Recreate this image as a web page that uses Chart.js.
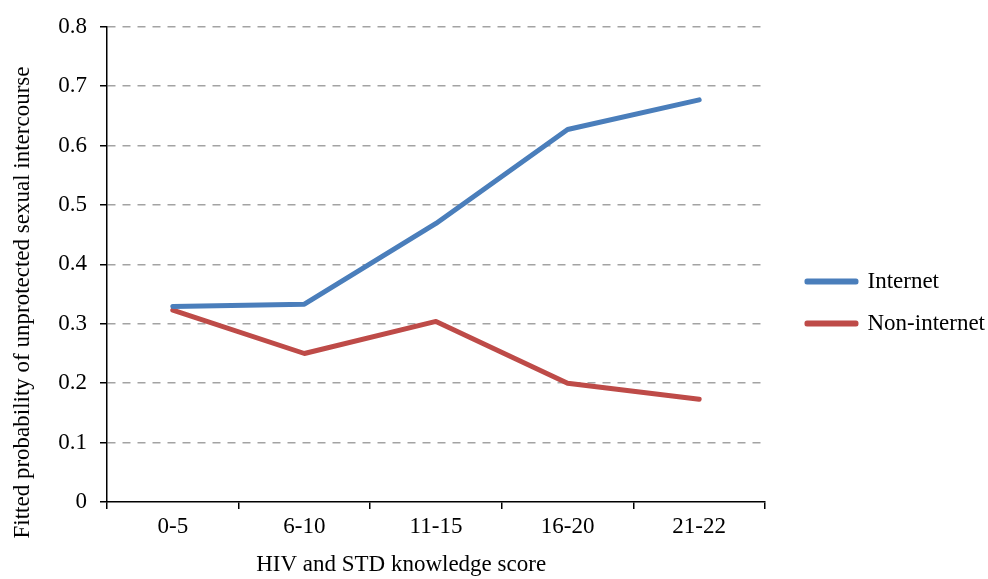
<!DOCTYPE html>
<html>
<head>
<meta charset="utf-8">
<script src="https://cdn.jsdelivr.net/npm/chart.js@4/dist/chart.umd.min.js"></script>
<style>
  html, body { margin: 0; padding: 0; background: #ffffff; }
  #wrap { width: 988px; height: 579px; }
</style>
</head>
<body>
<div id="wrap"><canvas id="c" width="988" height="579"></canvas></div>
<script>
const categories = ['0-5', '6-10', '11-15', '16-20', '21-22'];
const internetValues = [0.329, 0.333, 0.469, 0.627, 0.677];
const nonInternetValues = [0.323, 0.250, 0.304, 0.200, 0.173];
const seriesNames = ['Internet', 'Non-internet'];
const xTitle = 'HIV and STD knowledge score';
const yTitle = 'Fitted probability of unprotected sexual intercourse';

const FONT = 'Liberation Serif, Times New Roman, serif';
const FS = 23;
const BLUE = '#4A7EBB';
const RED = '#BE4B48';

// Draws the x-axis title centred slightly left of the plot centre, as in the reference.
const xTitlePlugin = {
  id: 'xTitlePlugin',
  afterDraw(chart) {
    const {ctx, chartArea} = chart;
    const xs = chart.scales.x;
    ctx.save();
    ctx.font = FS + 'px ' + FONT;
    ctx.fillStyle = '#000';
    ctx.textAlign = 'center';
    ctx.textBaseline = 'middle';
    const cx = chartArea.left + (chartArea.right - chartArea.left) * 0.447;
    ctx.fillText(xTitle, cx, xs.bottom - FS * 0.6);
    ctx.restore();
  }
};

new Chart(document.getElementById('c'), {
  type: 'line',
  data: {
    labels: categories,
    datasets: [
      {
        label: seriesNames[0], data: internetValues,
        borderColor: BLUE, backgroundColor: BLUE, borderWidth: 5,
        pointRadius: 0, pointHoverRadius: 0, tension: 0, fill: false,
        borderCapStyle: 'round', borderJoinStyle: 'round'
      },
      {
        label: seriesNames[1], data: nonInternetValues,
        borderColor: RED, backgroundColor: RED, borderWidth: 5,
        pointRadius: 0, pointHoverRadius: 0, tension: 0, fill: false,
        borderCapStyle: 'round', borderJoinStyle: 'round'
      }
    ]
  },
  plugins: [xTitlePlugin],
  options: {
    responsive: false,
    animation: false,
    devicePixelRatio: 1,
    layout: { padding: { top: 26, right: -7, bottom: 0, left: 0 } },
    plugins: {
      tooltip: { enabled: false },
      title: {
        display: true, position: 'left', text: yTitle, color: '#000',
        font: { family: FONT, size: FS, weight: 'normal' },
        padding: { top: 9, bottom: 0 }
      },
      legend: {
        display: true, position: 'right', align: 'center', maxWidth: 400,
        labels: {
          color: '#000', font: { family: FONT, size: FS },
          boxWidth: 49, boxHeight: 1, padding: 19
        }
      }
    },
    scales: {
      x: {
        type: 'category', offset: true,
        grid: { display: true, offset: true, drawOnChartArea: false, drawTicks: true,
                tickLength: 7, color: '#000', lineWidth: 1.5 },
        border: { display: true, color: '#000', width: 1.5 },
        ticks: { color: '#000', font: { family: FONT, size: FS }, padding: 4, maxRotation: 0 },
        title: { display: false, text: xTitle },
        afterFit: (s) => { s.height = 77; }
      },
      y: {
        type: 'linear', position: 'left', min: 0, max: 0.8,
        grid: {
          display: true, drawOnChartArea: true, drawTicks: true, tickLength: 7,
          color: (ctx) => (ctx.tick && ctx.tick.value === 0) ? 'rgba(0,0,0,0)' : '#A3A3A3',
          lineWidth: 1.5, tickColor: '#000', tickWidth: 1.5
        },
        border: { display: true, color: '#000', width: 1.5, dash: [8, 7] },
        ticks: { stepSize: 0.1, color: '#000', font: { family: FONT, size: FS }, padding: 13 },
        afterFit: (s) => { s.width = 70.4; }
      },
      y2: {
        type: 'linear', position: 'right', display: true,
        grid: { display: false, drawTicks: false },
        border: { display: false },
        ticks: { display: false },
        afterFit: (s) => { s.width = 23; }
      }
    }
  }
});
</script>
</body>
</html>
